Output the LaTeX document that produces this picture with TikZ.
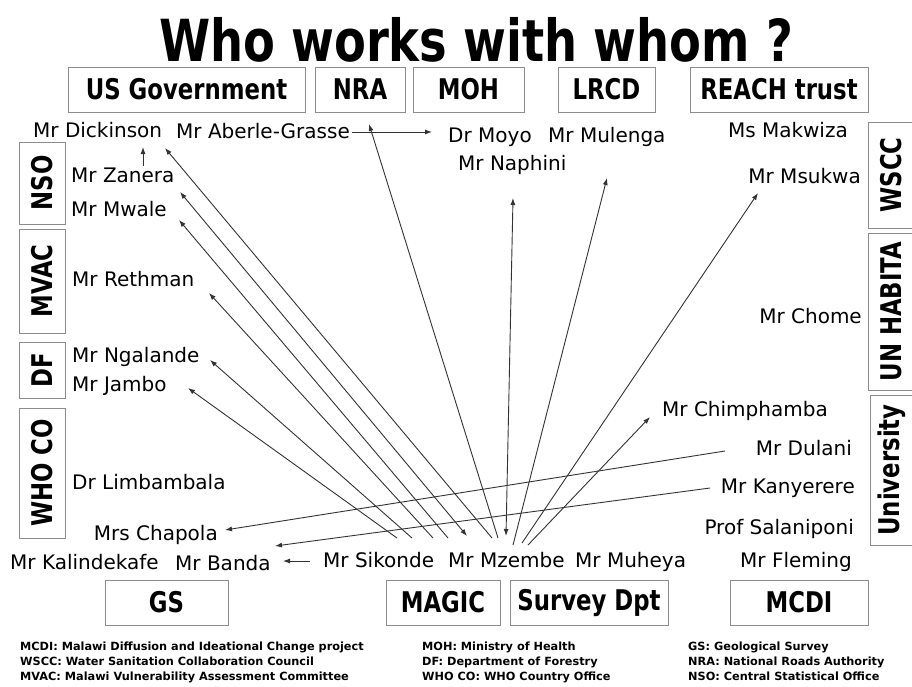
\documentclass[tikz,border=0pt]{standalone}
\usepackage{fontspec}
\setmainfont{DejaVu Sans}
\newfontfamily\condfont[FakeStretch=0.8]{DejaVu Sans}
\usetikzlibrary{arrows.meta}
\begin{document}
\begin{tikzpicture}[x=1pt,y=-1pt,
  box/.style={draw=black!45, line width=1pt, inner sep=0pt, font=\condfont\bfseries\fontsize{28.5}{28.5}\selectfont},
  vbox/.style={box, rotate=90},
  who/.style={inner sep=0pt, anchor=base west, font=\fontsize{20}{20}\selectfont},
  whoe/.style={who, anchor=base east},
  lnk/.style={draw=black!80, line width=0.9pt, -{Latex[length=7pt,width=5pt]}},
  dbl/.style={draw=black!80, line width=0.9pt, {Latex[length=7pt,width=5pt]}-{Latex[length=7pt,width=5pt]}},
  leg/.style={inner sep=0pt, anchor=base west, font=\bfseries\fontsize{11.3}{11.3}\selectfont}]
\useasboundingbox[fill=white] (0,0) rectangle (912,686);

% title
\node[inner sep=0pt, anchor=base, font=\condfont\bfseries\fontsize{58}{58}\selectfont] (title) at (476,61) {Who works with whom ?};

% top boxes
\node[box, minimum width=237pt, minimum height=45pt] (usg) at (186.5,89.5) {US Government};
\node[box, minimum width=90pt, minimum height=45pt] (nra) at (360,89.5) {NRA};
\node[box, minimum width=111pt, minimum height=45pt] (moh) at (468.5,89.5) {MOH};
\node[box, minimum width=97pt, minimum height=45pt] (lrcd) at (606.5,89.5) {LRCD};
\node[box, minimum width=178pt, minimum height=45pt] (reach) at (779,89.5) {REACH trust};

% left boxes
\node[vbox, minimum width=82pt, minimum height=46pt] (nso) at (42,183) {NSO};
\node[vbox, minimum width=104pt, minimum height=46pt] (mvac) at (42,281) {MVAC};
\node[vbox, minimum width=56pt, minimum height=46pt] (df) at (42,370) {DF};
\node[vbox, minimum width=130pt, minimum height=46pt] (whoco) at (42,473) {WHO CO};

% right boxes
\node[vbox, minimum width=106pt, minimum height=46pt] (wscc) at (891,175) {WSCC};
\node[vbox, minimum width=157pt, minimum height=46pt] (unh) at (891,311.5) {UN HABITA};
\node[vbox, minimum width=150pt, minimum height=44pt] (univ) at (892,470) {University};

% bottom boxes
\node[box, minimum width=123pt, minimum height=45pt] (gs) at (166.5,602.5) {GS};
\node[box, minimum width=114pt, minimum height=45pt] (magic) at (443,602.5) {MAGIC};
\node[box, minimum width=158pt, minimum height=45pt] (survey) at (589,602.5) {Survey Dpt};
\node[box, minimum width=138pt, minimum height=45pt] (mcdi) at (799,602.5) {MCDI};

% names
\node[who] (dick) at (33,137) {Mr Dickinson};
\node[who] (aber) at (176,138) {Mr Aberle-Grasse};
\node[who] (moyo) at (448,142) {Dr Moyo};
\node[who] (mule) at (548,142) {Mr Mulenga};
\node[whoe] (makw) at (848,137) {Ms Makwiza};
\node[who] (naph) at (458,170) {Mr Naphini};
\node[whoe] (msuk) at (861,183) {Mr Msukwa};
\node[who] (zane) at (71,182) {Mr Zanera};
\node[who] (mwal) at (71,216) {Mr Mwale};
\node[who] (reth) at (72,286) {Mr Rethman};
\node[whoe] (chom) at (862,323) {Mr Chome};
\node[who] (ngal) at (72,362) {Mr Ngalande};
\node[who] (jamb) at (72,391) {Mr Jambo};
\node[who] (chim) at (662,416) {Mr Chimphamba};
\node[whoe] (dula) at (852,455) {Mr Dulani};
\node[who] (limb) at (72,489) {Dr Limbambala};
\node[whoe] (kany) at (855,493) {Mr Kanyerere};
\node[whoe] (chap) at (218,540) {Mrs Chapola};
\node[whoe] (sala) at (854,534) {Prof Salaniponi};
\node[who] (kali) at (10,569) {Mr Kalindekafe};
\node[who] (band) at (175,570) {Mr Banda};
\node[who] (siko) at (323,567) {Mr Sikonde};
\node[who] (mzem) at (448,567) {Mr Mzembe};
\node[who] (muhe) at (575,567) {Mr Muheya};
\node[whoe] (flem) at (852,567) {Mr Fleming};

% connector end points
\coordinate (zanTop) at (143,166);
\coordinate (dickBot) at (143,147);
\coordinate (aberR) at (352,132);
\coordinate (moyoL) at (432,132);
\coordinate (nraTip) at (369,124);
\coordinate (mzA) at (498,538);
\coordinate (mzB) at (506,536);
\coordinate (naphTip) at (513,198);
\coordinate (mzC) at (513,545);
\coordinate (muleTip) at (607,178);
\coordinate (mzD) at (522,543);
\coordinate (msukTip) at (758,193);
\coordinate (mzE) at (528,545);
\coordinate (chimTip) at (650,417);
\coordinate (mzF) at (492,538);
\coordinate (dickTip) at (165,148);
\coordinate (mzG) at (467,536);
\coordinate (zaneTip) at (180,192);
\coordinate (mzH) at (448,538);
\coordinate (mwalTip) at (179,220);
\coordinate (mzI) at (433,538);
\coordinate (rethTip) at (209,293);
\coordinate (mzJ) at (412,538);
\coordinate (ngalTip) at (210,360);
\coordinate (mzK) at (397,538);
\coordinate (jambTip) at (188,388);
\coordinate (dulaL) at (725,451);
\coordinate (chapTip) at (225,530);
\coordinate (kanyL) at (710,488);
\coordinate (bandTip) at (275,546);
\coordinate (sikoL) at (310,561);
\coordinate (bandTip2) at (283,561);

% connectors
\draw[lnk] (zanTop) -- (dickBot);
\draw[lnk] (aberR) -- (moyoL);
\draw[lnk] (mzA) -- (nraTip);
\draw[dbl] (mzB) -- (naphTip);
\draw[lnk] (mzC) -- (muleTip);
\draw[lnk] (mzD) -- (msukTip);
\draw[lnk] (mzE) -- (chimTip);
\draw[lnk] (mzF) -- (dickTip);
\draw[dbl] (mzG) -- (zaneTip);
\draw[lnk] (mzH) -- (mwalTip);
\draw[lnk] (mzI) -- (rethTip);
\draw[lnk] (mzJ) -- (ngalTip);
\draw[lnk] (mzK) -- (jambTip);
\draw[lnk] (dulaL) -- (chapTip);
\draw[lnk] (kanyL) -- (bandTip);
\draw[lnk] (sikoL) -- (bandTip2);

% legend
\node[leg] (l1) at (20,650) {MCDI: Malawi Diffusion and Ideational Change project};
\node[leg] (l2) at (20,665) {WSCC: Water Sanitation Collaboration Council};
\node[leg] (l3) at (20,680) {MVAC: Malawi Vulnerability Assessment Committee};
\node[leg] (l4) at (422,650) {MOH: Ministry of Health};
\node[leg] (l5) at (422,665) {DF: Department of Forestry};
\node[leg] (l6) at (422,680) {WHO CO: WHO Country Office};
\node[leg] (l7) at (688,650) {GS: Geological Survey};
\node[leg] (l8) at (688,665) {NRA: National Roads Authority};
\node[leg] (l9) at (688,680) {NSO: Central Statistical Office};
\end{tikzpicture}
\end{document}
